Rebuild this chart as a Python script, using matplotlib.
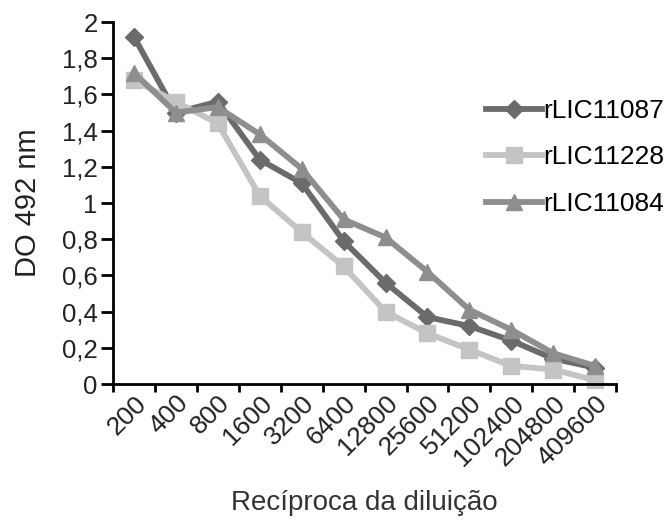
import matplotlib
matplotlib.use("Agg")
import matplotlib.pyplot as plt
from matplotlib.ticker import FixedLocator, FuncFormatter

plt.rcParams['font.family'] = ['Liberation Sans', 'DejaVu Sans']

dilutions = ["200", "400", "800", "1600", "3200", "6400", "12800",
             "25600", "51200", "102400", "204800", "409600"]
rLIC11087 = [1.92, 1.50, 1.56, 1.24, 1.11, 0.79, 0.56, 0.37, 0.32, 0.24, 0.14, 0.09]
rLIC11228 = [1.68, 1.56, 1.44, 1.04, 0.84, 0.65, 0.40, 0.28, 0.19, 0.10, 0.08, 0.02]
rLIC11084 = [1.72, 1.50, 1.53, 1.38, 1.19, 0.91, 0.81, 0.62, 0.41, 0.30, 0.17, 0.10]
series_names = ["rLIC11087", "rLIC11228", "rLIC11084"]
y_ticks = [0, 0.2, 0.4, 0.6, 0.8, 1.0, 1.2, 1.4, 1.6, 1.8, 2.0]

fig = plt.figure(figsize=(6.72, 5.2), dpi=100)
ax = fig.add_axes([0.168, 0.2615, 0.749, 0.696])

x = list(range(len(dilutions)))
styles = [
    (rLIC11087, "D", "#6b6b6b", 9),
    (rLIC11228, "s", "#c4c4c4", 11),
    (rLIC11084, "^", "#8e8e8e", 12),
]
for (vals, mk, col, ms), name in zip(styles, series_names):
    ax.plot(x, vals, marker=mk, color=col, lw=4.2, ms=ms,
            markeredgecolor=col, label=name, clip_on=False)

ax.set_xlim(-0.5, len(dilutions) - 0.5)
ax.set_ylim(0, 2)

# category boundaries carry the tick marks, labels sit at the centres
ax.xaxis.set_major_locator(FixedLocator([i - 0.5 for i in range(len(dilutions) + 1)]))
ax.xaxis.set_major_formatter(FuncFormatter(lambda v, p: ""))
ax.xaxis.set_minor_locator(FixedLocator(x))
ax.set_xticklabels(dilutions, minor=True, rotation=45, ha="right",
                   rotation_mode="anchor", fontsize=19, color="#222222")
ax.tick_params(axis="x", which="minor", length=0, pad=5)
ax.tick_params(axis="x", which="major", length=6, width=2, direction="out")

ax.set_yticks(y_ticks)
ax.yaxis.set_major_formatter(FuncFormatter(lambda v, p: f"{v:g}".replace(".", ",")))
ax.tick_params(axis="y", length=9, width=2, direction="out", labelsize=18.5,
               labelcolor="#222222", pad=2)

for side in ("top", "right"):
    ax.spines[side].set_visible(False)
for side in ("left", "bottom"):
    ax.spines[side].set_linewidth(2)

ax.set_ylabel("DO 492 nm", fontsize=21, color="#222222", labelpad=14)
ax.set_xlabel("Recíproca da diluição", fontsize=20, color="#333333", labelpad=14)

fig.legend(loc="upper right", bbox_to_anchor=(1.008, 0.835), frameon=False,
           fontsize=19, handlelength=2.1, handletextpad=0.05,
           labelspacing=0.85, borderpad=0)

fig.savefig("out.png", dpi=100)
